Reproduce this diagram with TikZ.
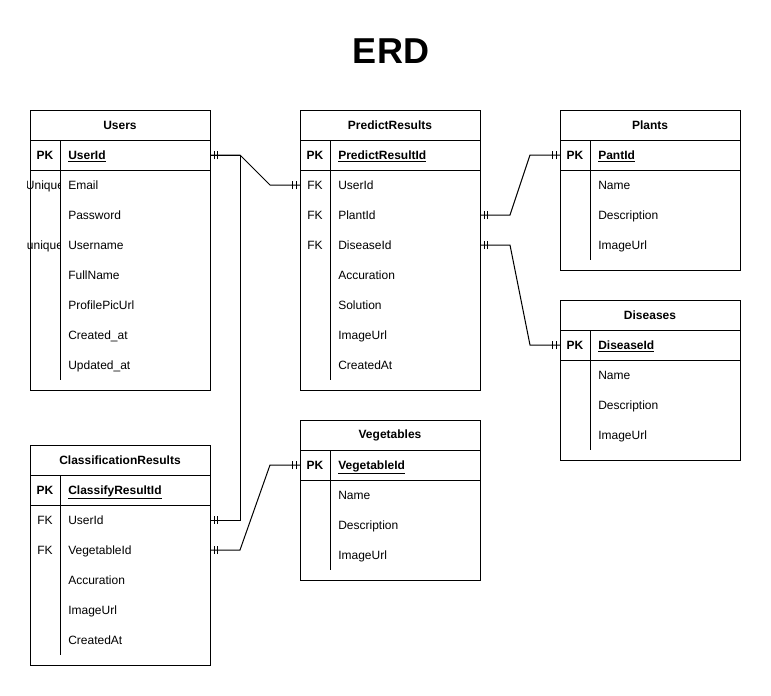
\documentclass[tikz,border=0pt]{standalone}
\usepackage{fontspec}
\setmainfont{Liberation Sans}
\usetikzlibrary{calc,decorations.markings}

% one table: #1 name, #2 left, #3 top, #4 height, #5 title
\newcommand{\erdbox}[5]{%
  \draw[erdline] (#2,#3) rectangle ++(180,#4);
  \draw[erdline] (#2,#3+30) -- ++(180,0);
  \draw[erdline] (#2,#3+60) -- ++(180,0);
  \draw[erdline] (#2+30,#3+30) -- (#2+30,#3+#4-10);
  \node[colhead] (#1) at (#2+90,#3+15) {#5};
}

\tikzset{
  erdline/.style={line width=0.75pt},
  colhead/.style={font=\bfseries\fontsize{9}{11}\selectfont},
  keytext/.style={text height=7.5pt,text depth=1.5pt,font=\fontsize{9}{11}\selectfont},
  pkkey/.style={keytext,font=\bfseries\fontsize{9}{11}\selectfont},
  fieldtext/.style={anchor=west,inner xsep=0pt,text height=7.5pt,text depth=1.5pt,font=\fontsize{9}{11}\selectfont},
  pkfield/.style={fieldtext,font=\bfseries\fontsize{9}{11}\selectfont},
  onebar/.style={line width=0.75pt},
  ermandboth/.style={erdline,postaction={decorate},decoration={markings,
    mark=at position 3pt with {\draw[onebar] (0,-3pt) -- (0,3pt);},
    mark=at position 5.4pt with {\draw[onebar] (0,-3pt) -- (0,3pt);},
    mark=at position -3pt with {\draw[onebar] (0,-3pt) -- (0,3pt);},
    mark=at position -5.4pt with {\draw[onebar] (0,-3pt) -- (0,3pt);}}}
}

\begin{document}
\begin{tikzpicture}[x=0.75pt,y=-0.75pt]
  \useasboundingbox (0,0) rectangle (771,696);
  \node[font=\bfseries\fontsize{27}{30}\selectfont] (title) at (391,51) {ERD};

  % Users
  \erdbox{users}{30}{110}{280}{Users}
  \node[pkkey] (users-pk) at (45,155) {PK};
  \node[pkfield] (users-id) at (68,155) {\underline{UserId}};
  \begin{scope}
    \clip (27,170) rectangle (60,260);
    \node[keytext] (users-uq1) at (45,185) {Unique};
    \node[keytext] (users-uq2) at (45,245) {unique};
  \end{scope}
  \foreach \fld [count=\i] in {Email,Password,Username,FullName,ProfilePicUrl,Created\_at,Updated\_at}
    \node[fieldtext] (users-f\i) at (68,155+30*\i) {\fld};

  % PredictResults
  \erdbox{pred}{300}{110}{280}{PredictResults}
  \node[pkkey] (pred-pk) at (315,155) {PK};
  \node[pkfield] (pred-id) at (338,155) {\underline{PredictResultId}};
  \foreach \k [count=\i] in {FK,FK,FK}
    \node[keytext] (pred-k\i) at (315,155+30*\i) {\k};
  \foreach \fld [count=\i] in {UserId,PlantId,DiseaseId,Accuration,Solution,ImageUrl,CreatedAt}
    \node[fieldtext] (pred-f\i) at (338,155+30*\i) {\fld};

  % Plants
  \erdbox{plants}{560}{110}{160}{Plants}
  \node[pkkey] (plants-pk) at (575,155) {PK};
  \node[pkfield] (plants-id) at (598,155) {\underline{PantId}};
  \foreach \fld [count=\i] in {Name,Description,ImageUrl}
    \node[fieldtext] (plants-f\i) at (598,155+30*\i) {\fld};

  % Diseases
  \erdbox{dis}{560}{300}{160}{Diseases}
  \node[pkkey] (dis-pk) at (575,345) {PK};
  \node[pkfield] (dis-id) at (598,345) {\underline{DiseaseId}};
  \foreach \fld [count=\i] in {Name,Description,ImageUrl}
    \node[fieldtext] (dis-f\i) at (598,345+30*\i) {\fld};

  % Vegetables
  \erdbox{veg}{300}{420}{160}{Vegetables}
  \node[pkkey] (veg-pk) at (315,465) {PK};
  \node[pkfield] (veg-id) at (338,465) {\underline{VegetableId}};
  \foreach \fld [count=\i] in {Name,Description,ImageUrl}
    \node[fieldtext] (veg-f\i) at (338,465+30*\i) {\fld};

  % ClassificationResults
  \erdbox{clf}{30}{445}{220}{ClassificationResults}
  \node[pkkey] (clf-pk) at (45,490) {PK};
  \node[pkfield] (clf-id) at (68,490) {\underline{ClassifyResultId}};
  \foreach \k [count=\i] in {FK,FK}
    \node[keytext] (clf-k\i) at (45,490+30*\i) {\k};
  \foreach \fld [count=\i] in {UserId,VegetableId,Accuration,ImageUrl,CreatedAt}
    \node[fieldtext] (clf-f\i) at (68,490+30*\i) {\fld};

  % row ends on the table borders
  \coordinate (users-uid) at (210,155);
  \coordinate (pred-uid) at (300,185);
  \coordinate (pred-plant) at (480,215);
  \coordinate (pred-dis) at (480,245);
  \coordinate (plants-key) at (560,155);
  \coordinate (dis-key) at (560,345);
  \coordinate (veg-key) at (300,465);
  \coordinate (clf-uid) at (210,520);
  \coordinate (clf-veg) at (210,550);

  % relations
  \draw[ermandboth] (users-uid) -- ++(30,0) -- ($(pred-uid)+(-30,0)$) -- (pred-uid);
  \draw[ermandboth] (users-uid) -- ++(30,0) |- (clf-uid);
  \draw[ermandboth] (pred-plant) -- ++(30,0) -- ($(plants-key)+(-30,0)$) -- (plants-key);
  \draw[ermandboth] (pred-dis) -- ++(30,0) -- ($(dis-key)+(-30,0)$) -- (dis-key);
  \draw[ermandboth] (clf-veg) -- ++(30,0) -- ($(veg-key)+(-30,0)$) -- (veg-key);
\end{tikzpicture}
\end{document}
